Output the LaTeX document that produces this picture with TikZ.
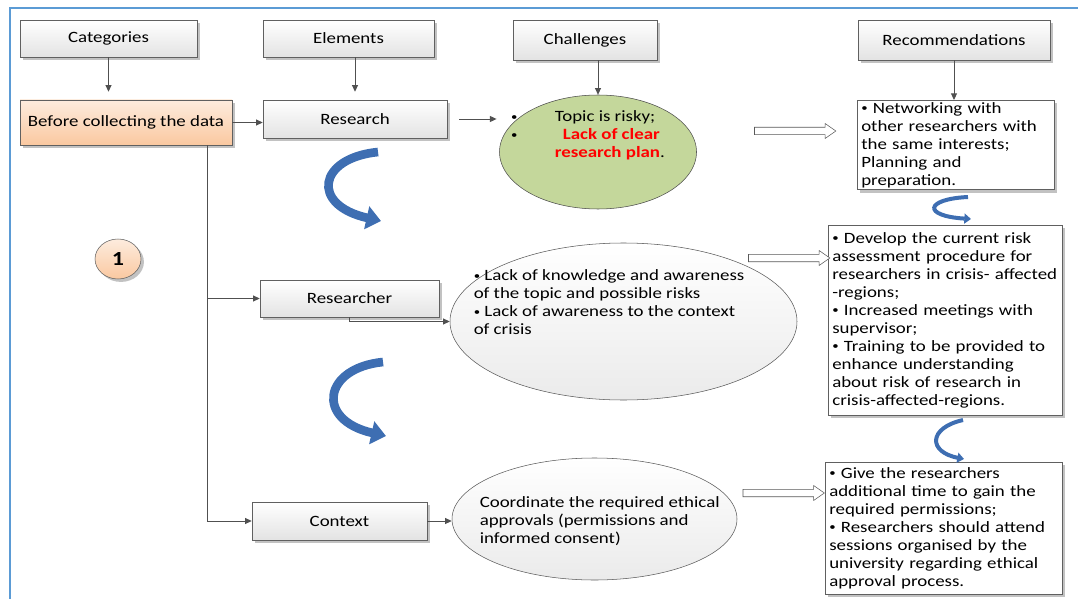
\documentclass[tikz,border=0pt]{standalone}
\usepackage{fontspec}
\setmainfont{Carlito}[FakeStretch=1.2]
\usepackage{xcolor}
\usepackage{tikz}
\usetikzlibrary{shapes,arrows.meta,shadows}

\definecolor{framblue}{RGB}{91,155,213}
\definecolor{peachtop}{RGB}{253,236,222}
\definecolor{peachbot}{RGB}{250,200,160}
\definecolor{olivefill}{RGB}{196,215,155}
\definecolor{curvblue}{RGB}{62,110,178}
\definecolor{lineg}{RGB}{80,80,80}
\newcommand{\smallbul}{\raisebox{0.2ex}{\fontsize{8pt}{8pt}\selectfont\textbullet}}

\begin{document}
\begin{tikzpicture}[x=0.75pt,y=-0.75pt,
  font=\fontsize{11.8pt}{13.5pt}\selectfont,
  shad/.style={drop shadow={shadow xshift=2.2pt,shadow yshift=-2.2pt,fill=gray!80,opacity=0.6}},
  box/.style={draw=gray!75!black,top color=white,bottom color=gray!22,shad,inner sep=0pt},
  peach/.style={draw=gray!75!black,top color=peachtop,bottom color=peachbot,shad,inner sep=0pt},
  recbox/.style={draw=gray!75!black,fill=white,shad,anchor=north west,align=left,inner xsep=3pt,inner ysep=1.5pt},
  bubble/.style={ellipse,draw=gray!70!black,top color=white,bottom color=gray!16,inner sep=0pt},
  txt/.style={align=left,inner sep=0pt,anchor=north west},
  arr/.style={draw=lineg,line width=0.7pt,-{Triangle[length=5pt,width=4.5pt]}},
  hollow/.style={single arrow,draw=gray!70!black,fill=white,inner xsep=0pt,inner ysep=2.6pt,
    single arrow head extend=2.8pt,single arrow tip angle=70,minimum height=61pt},
  curv/.style={draw=curvblue,line width=6.5pt,-{Triangle[length=11pt,width=17pt]}},
  smallcurv/.style={draw=curvblue,line width=3pt,-{Triangle[length=5pt,width=7.5pt]}}]
\useasboundingbox (0,0) rectangle (1078,599);
\draw[framblue,line width=1.5pt] (10,599) -- (10,8) -- (1078,8);

\node[box,minimum width=132.75pt,minimum height=27.75pt] (cat) at (108.5,38.5) {Categories};
\node[box,minimum width=128.25pt,minimum height=27.75pt] (elem) at (348.5,38.5) {Elements};
\node[box,minimum width=108pt,minimum height=30pt] (chal) at (585,40) {Challenges};
\node[box,minimum width=144pt,minimum height=30pt] (recom) at (954,40) {Recommendations};

\node[peach,minimum width=159pt,minimum height=33.75pt] (before) at (126,122.5) {Before collecting the data};
\node[box,minimum width=138pt,minimum height=28.5pt] (research) at (355,119) {Research};
\node[box,minimum width=134.25pt,minimum height=27.75pt] (researcher) at (349.5,298.5) {Researcher};
\node[box,minimum width=131.25pt,minimum height=28.5pt] (context) at (339.5,521) {Context};

\node[peach,ellipse,minimum width=34.5pt,minimum height=30pt,font=\fontsize{15pt}{17pt}\selectfont\bfseries] (one) at (118,259) {1};

\node[ellipse,draw=gray!60!black,fill=olivefill,minimum width=147.75pt,minimum height=85.5pt] (ell1) at (598,152) {};
\node[inner sep=0pt] (ell1t) at (588,136) {\begin{tabular}{@{}l@{\hspace{28pt}}l@{}}
\smallbul & Topic is risky;\\
\smallbul & \hspace{6pt}\textcolor{red}{\bfseries Lack of clear}\\
 & \textcolor{red}{\bfseries research plan}.\end{tabular}};

\node[bubble,minimum width=260.25pt,minimum height=117.75pt] (ell2) at (623.5,321.5) {};
\node[txt] (ell2t) at ([shift={(-150,-52)}]ell2.center) {\smallbul{} Lack of knowledge and awareness\\
of the topic and possible risks\\
\smallbul{} Lack of awareness to the context\\
of crisis};

\node[bubble,minimum width=213.75pt,minimum height=91.5pt] (ell3) at (594.5,519) {};
\node[txt] (ell3t) at ([shift={(-115,-23)}]ell3.center) {Coordinate the required ethical\\
approvals (permissions and\\
informed consent)};

\node[recbox,text width=141.75pt,minimum height=65.25pt] (rec1) at (857,100) {\smallbul{} Networking with\\
other researchers with\\
the same interests;\\
Planning and\\
preparation.};
\node[recbox,text width=169.5pt,minimum height=142.5pt] (rec2) at (828,225) {\smallbul{} Develop the current risk\\
assessment procedure for\\
researchers in crisis- affected\\
-regions;\\
\smallbul{} Increased meetings with\\
supervisor;\\
\smallbul{} Training to be provided to\\
enhance understanding\\
about risk of research in\\
crisis-affected-regions.};
\node[recbox,text width=171.75pt,minimum height=99pt] (rec3) at (825,462) {\smallbul{} Give the researchers\\
additional time to gain the\\
required permissions;\\
\smallbul{} Researchers should attend\\
sessions organised by the\\
university regarding ethical\\
approval process.};

\node[hollow] (h1) at (792.5,131) {};
\node[hollow] (h2) at (786.5,258) {};
\node[hollow] (h3) at (781,493) {};

\draw[arr,shorten >=6pt] (cat.south) -- (cat.south |- before.north);
\draw[arr,shorten >=6pt] (elem.south -| research.north) -- (research.north);
\draw[arr] (chal.south -| ell1.north) -- (ell1.north);
\draw[arr] (recom.south) -- (recom.south |- rec1.north);
\draw[arr] (before.east) -- (before.east -| research.west);
\draw[arr,shorten <=9pt,shorten >=2pt] (research.east) -- (research.east -| ell1.west);
\coordinate (trunk) at ([xshift=60.75pt]before.south);
\draw[arr] (trunk) |- (researcher.west);
\draw[arr] (trunk) |- (context.west);
\draw[arr] (researcher.south) |- (ell2.west);
\draw[arr] (context.east) -- (context.east -| ell3.west);

\coordinate (c1a) at (378,152);
\coordinate (c1b) at (381,221);
\coordinate (c2a) at (383,362);
\coordinate (c2b) at (386,436);
\coordinate (c3a) at (968,197);
\coordinate (c3b) at (971,219);
\coordinate (c4a) at (963,420);
\coordinate (c4b) at (964,459);
\draw[curv] (c1a) .. controls (318,158) and (310,205) .. (c1b);
\draw[curv] (c2a) .. controls (323,368) and (315,420) .. (c2b);
\draw[smallcurv] (c3a) .. controls (925,199) and (922,216) .. (c3b);
\draw[smallcurv] (c4a) .. controls (928,428) and (928,452) .. (c4b);

\end{tikzpicture}
\end{document}
